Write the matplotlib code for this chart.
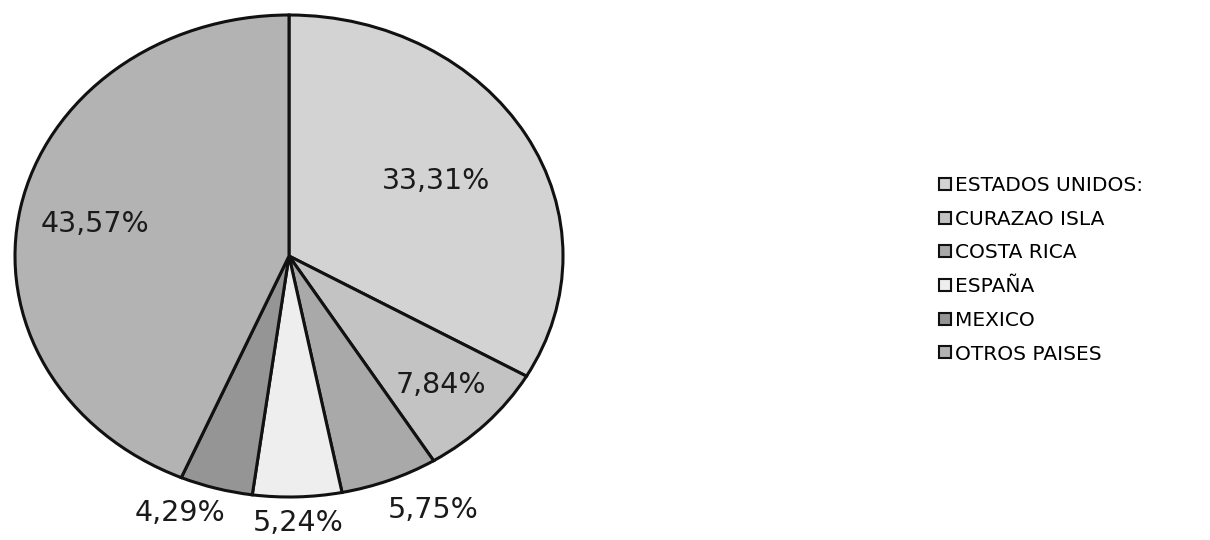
import matplotlib
matplotlib.use("Agg")
import matplotlib.pyplot as plt
from matplotlib.lines import Line2D
import numpy as np

categories = ["ESTADOS UNIDOS:", "CURAZAO ISLA", "COSTA RICA", "ESPAÑA", "MEXICO", "OTROS PAISES"]
values = [33.31, 7.84, 5.75, 5.24, 4.29, 43.57]
labels = ["33,31%", "7,84%", "5,75%", "5,24%", "4,29%", "43,57%"]

colors = ["#d3d3d3", "#c3c3c3", "#a9a9a9", "#eeeeee", "#959595", "#b3b3b3"]
# label placement: (radial distance, angle offset in degrees)
label_place = [(0.62, 0), (0.77, 0), (1.18, 5), (1.11, 0), (1.14, -5), (0.72, 1)]

W, H = 1210, 540
fig = plt.figure(figsize=(W / 100, H / 100), dpi=100)
plt.rcParams['font.family'] = ['DejaVu Sans']

cx0, cx1 = 15, 563
cy0, cy1 = 15, 497
ax = fig.add_axes([cx0 / W, (H - cy1) / H, (cx1 - cx0) / W, (cy1 - cy0) / H])
wedges, _ = ax.pie(values, colors=colors, startangle=90, counterclock=False,
                   wedgeprops=dict(edgecolor="#111111", linewidth=2.2))
ax.set_aspect('auto')
ax.set_xlim(-1, 1)
ax.set_ylim(-1, 1)
ax.set_axis_off()

for w, lab, (r, off) in zip(wedges, labels, label_place):
    ang = np.deg2rad((w.theta1 + w.theta2) / 2 + off)
    ax.text(r * np.cos(ang), r * np.sin(ang), lab, ha="center", va="center",
            fontsize=20.5, color="#1a1a1a", clip_on=False)

handles = [Line2D([], [], marker="s", linestyle="none", markersize=8,
                  markerfacecolor=c, markeredgecolor="#111111", markeredgewidth=1.5)
           for c in colors]
fig.legend(handles, categories, loc="upper left", bbox_to_anchor=(938 / W, 1 - 176 / H),
           frameon=False, fontsize=14.5, handlelength=0.7, handletextpad=0.15,
           labelspacing=0.73, borderaxespad=0, borderpad=0)

fig.savefig("out.png", dpi=100, facecolor="white")
